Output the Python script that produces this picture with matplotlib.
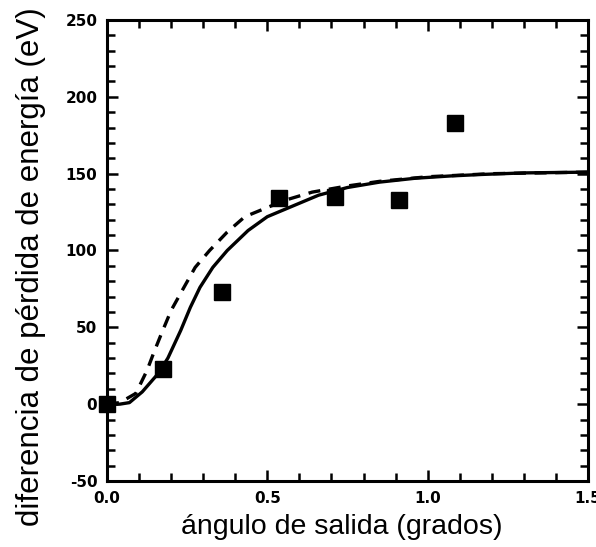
import numpy as np
import matplotlib
matplotlib.use("Agg")
import matplotlib.pyplot as plt
from matplotlib.ticker import MultipleLocator

# experimental points (squares)
exp_x = [0.0, 0.175, 0.36, 0.535, 0.71, 0.91, 1.085]
exp_y = [0, 23, 73, 134, 135, 133, 183]

# solid curve
sol_x = [0.0, 0.04, 0.07, 0.11, 0.16, 0.19, 0.23, 0.26, 0.29, 0.33, 0.375, 0.44,
         0.50, 0.58, 0.66, 0.75, 0.85, 0.96, 1.07, 1.17, 1.30, 1.50]
sol_y = [0, 0, 1, 8, 20, 30, 48, 63, 76, 89, 100, 113,
         122, 129, 136, 141, 144.5, 147, 148.5, 149.5, 150.5, 151]

# dashed curve
das_x = [0.0, 0.04, 0.09, 0.125, 0.145, 0.17, 0.20, 0.24, 0.275, 0.32, 0.375, 0.43,
         0.50, 0.56, 0.64, 0.75, 0.85, 1.0, 1.2, 1.5]
das_y = [0, 1, 7, 22, 33, 46, 61, 76, 89, 100, 112, 122,
         128, 133, 138, 142, 145, 148, 150, 151]

fig = plt.figure(figsize=(5.96, 5.47), dpi=100)
ax = fig.add_axes([0.1795, 0.1207, 0.807, 0.8427])

ax.plot(sol_x, sol_y, color="black", lw=2.4, solid_capstyle="round")
ax.plot(das_x, das_y, color="black", lw=2.4, ls=(0, (3.6, 2.6)))
ax.plot(exp_x, exp_y, ls="none", marker="s", ms=11.5, color="black", clip_on=False, zorder=5)

ax.set_xlim(0, 1.5)
ax.set_ylim(-50, 250)
ax.xaxis.set_major_locator(MultipleLocator(0.5))
ax.xaxis.set_minor_locator(MultipleLocator(0.1))
ax.yaxis.set_major_locator(MultipleLocator(50))
ax.yaxis.set_minor_locator(MultipleLocator(10))
ax.tick_params(which="both", direction="in", top=True, right=True, width=1.8, pad=7)
ax.tick_params(which="major", length=8)
ax.tick_params(which="minor", length=6)
ax.xaxis.set_major_formatter(plt.FuncFormatter(lambda v, p: f"{v:.1f}"))
ax.yaxis.set_major_formatter(plt.FuncFormatter(lambda v, p: f"{v:.0f}"))
for lab in ax.get_xticklabels() + ax.get_yticklabels():
    lab.set_fontweight("bold")
    lab.set_fontsize(11)
for s in ax.spines.values():
    s.set_linewidth(2.2)

ax.set_xlabel("ángulo de salida (grados)", fontsize=20.5, family="Liberation Sans")
ax.set_ylabel("diferencia de pérdida de energía (eV)", fontsize=22.5, family="Liberation Sans")
ax.xaxis.set_label_coords(0.4875, -0.072)
ax.yaxis.set_label_coords(-0.127, 0.466)

fig.savefig("out.png", dpi=100)
